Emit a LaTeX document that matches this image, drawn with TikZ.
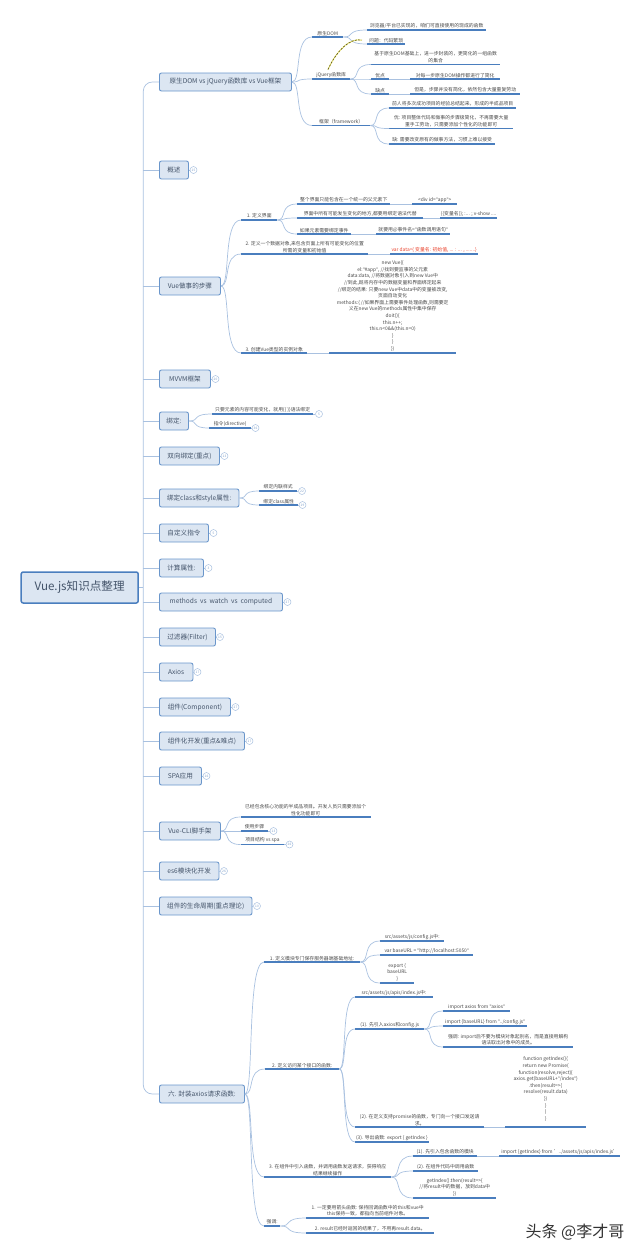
\documentclass[tikz,border=0pt]{standalone}
\usepackage{fontspec}
\setmainfont{Noto Sans CJK SC}
\newfontfamily\latf{Noto Sans}
\newcommand\qq{{\latf"}}
\usetikzlibrary{calc,arrows.meta}
\definecolor{connc}{HTML}{A9C1E0}
\definecolor{ulinec}{HTML}{4A7EBE}
\definecolor{topicf}{HTML}{DCE6F2}
\definecolor{topicd}{HTML}{6A96CB}
\definecolor{topict}{HTML}{44546A}
\definecolor{leaft}{HTML}{484848}
\definecolor{redt}{HTML}{E8402A}
\definecolor{colt}{HTML}{7F9FC9}
\tikzset{
  conn/.style={draw=connc,line width=0.7pt},
  uline/.style={draw=ulinec,line width=1.2pt},
  topic/.style={draw=topicd,fill=topicf,line width=0.9pt,rounded corners=2pt,anchor=west,minimum height=18pt,inner sep=0pt,text=topict,font=\fontsize{6.6}{8}\selectfont},
  centerbox/.style={draw=ulinec,fill=topicf,line width=1.5pt,rounded corners=2pt,minimum height=31pt,minimum width=117pt,inner sep=0pt,text=topict,font=\fontsize{11.6}{14}\selectfont},
  leaf/.style={anchor=south west,inner xsep=0pt,inner ysep=1.4pt,align=center,text=leaft,font=\fontsize{4.85}{6.6}\selectfont},
  colb/.style={circle,draw=connc,fill=white,line width=0.5pt,minimum size=7pt,inner sep=0pt,text=colt,font=\fontsize{3.2}{3.2}\selectfont},
}
\newcommand\leafn[6][]{\node[leaf,minimum width={(#4-#3)*1pt},#1] (#2) at (#3,#5) {#6};
  \draw[uline] (#2.south west)--(#2.south east);}
\newcommand\cv[2]{\draw[conn] let \p1=(#1),\p2=(#2) in (\p1) .. controls ({\x1+0.5*(\x2-\x1)},\y1) and ({\x1+0.08*(\x2-\x1)},\y2) .. (\p2);}
\newcommand\lnk[2]{\draw[conn] (#1.south east)--(#2.south west);}
\newcommand\topicn[5]{\node[topic,minimum width={(#4-#3)*1pt}] (#2) at (#3,#5) {#1};}
\begin{document}
\begin{tikzpicture}[x=1pt,y=-1pt]
\useasboundingbox (0,0) rectangle (640,1254);
\node[centerbox] (root) at (79.7,587.5) {Vue.js知识点整理};
\topicn{原生DOM vs jQuery函数库 vs Vue框架}{t1}{159}{291}{82}
\topicn{概述}{t2}{159}{188}{170}
\topicn{Vue做事的步骤}{t3}{159}{220}{286}
\topicn{MVVM框架}{t4}{159}{210}{379}
\topicn{绑定:}{t5}{159}{188}{421}
\topicn{双向绑定(重点)}{t6}{159}{219}{456}
\topicn{绑定class和style属性:}{t7}{159}{238.5}{498}
\topicn{自定义指令}{t8}{159}{208}{533}
\topicn{计算属性:}{t9}{159}{203}{568}
\topicn{methods\ \ vs\ \ watch\ \ vs\ \ computed}{t10}{159}{282}{602}
\topicn{过滤器(Filter)}{t11}{159}{215}{637}
\topicn{Axios}{t12}{159}{192.5}{672}
\topicn{组件(Component)}{t13}{159}{230}{707}
\topicn{组件化开发(重点\&难点)}{t14}{159}{244}{741}
\topicn{SPA应用}{t15}{159}{201}{776}
\topicn{Vue-CLI脚手架}{t16}{159}{220}{831}
\topicn{es6模块化开发}{t17}{159}{218.5}{871}
\topicn{组件的生命周期(重点理论)}{t18}{159}{251.5}{906}
\topicn{六. 封装axios请求函数:}{t19}{159}{244}{1094}
% trunk
\coordinate (tr) at (143.3,587.5);
\draw[conn] (root.east)--(tr);
\draw[conn,rounded corners=9pt] (t1.west)-|(tr)|-(t19.west);
\foreach \n in {t2,t3,t4,t5,t6,t7,t8,t9,t10,t11,t12,t13,t14,t15,t16,t17,t18}{\draw[conn] (\n.west)--(tr|-\n.west);}
% collapse marks
\foreach \n/\m/\x/\y/\v in {c2/t2/193.5/170/15,c4/t4/215.5/379/20,c6/t6/224.5/456/13,c8/t8/213.5/533/5,c9/t9/208.5/568/3,c10/t10/287.5/602/27,c11/t11/220/637/15,c12/t12/197.5/672/17,c13/t13/235.5/707/27,c14/t14/249.5/741/17,c15/t15/206.5/776/16,c17/t17/224/871/26,c18/t18/257/906/10}{
  \node[colb] (\n) at (\x,\y) {\v};
  \draw[conn] (\m.east)--(\n.west);}
% topic 1
\leafn{a1}{312}{343}{37}{原生DOM}
\leafn{a11}{367}{486}{30}{浏览器/平台已实现的，咱们可直接使用的现成的函数}
\leafn{a12}{367}{405}{44}{问题：代码繁琐}
\leafn{a2}{312}{350}{79}{jQuery函数库}
\leafn{a21}{371}{500}{64.5}{基于原生DOM基础上，进一步封装的，更简化的一组函数\\的集合}
\leafn{a22}{371}{389}{79}{优点}
\leafn{a221}{410}{500}{79}{对每一步原生DOM操作都进行了简化}
\leafn{a23}{371}{389}{94}{缺点}
\leafn{a231}{410}{520}{94}{但是，步骤并没有简化，依然包含大量重复劳动}
\leafn{a3}{312}{370}{125.5}{框架（framework）}
\leafn{a31}{389}{516}{108}{前人将多次成功项目的经验总结起来，形成的半成品项目}
\leafn{a32}{389}{513}{128.5}{优: 项目整体代码和做事的步骤极简化，不再需要大量\\重手工劳动，只需要添加个性化的功能即可}
\leafn{a33}{389}{495}{144}{缺: 需要改变原有的做事方法，习惯上难以接受}
\cv{t1.east}{a1.south west}\cv{t1.east}{a2.south west}\cv{t1.east}{a3.south west}
\cv{a1.south east}{a11.south west}\cv{a1.south east}{a12.south west}
\cv{a2.south east}{a21.south west}\cv{a2.south east}{a22.south west}\cv{a2.south east}{a23.south west}
\cv{a3.south east}{a31.south west}\cv{a3.south east}{a32.south west}\cv{a3.south east}{a33.south west}
\lnk{a22}{a221}\lnk{a23}{a231}
\coordinate (arS) at ($(a2.north west)+(16,-1)$);
\coordinate (arE) at ($(a12.west)+(-5,0)$);
\draw[draw=yellow!45!white,line width=1pt] (arS) .. controls +(8,-18) and +(-12,-3) .. (arE);
\draw[draw=olive!70!black,line width=0.8pt,dash pattern=on 2.2pt off 1.2pt] (arS) .. controls +(8,-18) and +(-12,-3) .. (arE);
% topic 3
\leafn{b1}{241}{277}{220}{1. 定义界面}
\leafn{b11}{297}{390}{204}{整个界面只能包含在一个统一的父元素下}
\leafn{b111}{412}{457}{204}{<div id=\qq app\qq>}
\leafn{b12}{297}{423}{218}{界面中所有可能发生变化的地方,都要用绑定语法代替}
\leafn{b121}{440}{497}{218}{\{\{变量名\}\}; :... ; v-show ....}
\leafn{b13}{297}{351}{234}{如果元素需要绑定事件}
\leafn{b131}{376}{450}{234}{就要用@事件名=\qq 函数调用语句\qq}
\leafn{b2}{241}{368}{254}{2. 定义一个数据对象,来包含页面上所有可能变化的位置\\所需的变量和初始值}
\leafn[text=redt]{b21}{390}{478}{254}{var data=\{ 变量名: 初始值, ... : ... , .......\}}
\leafn{b3}{241}{307}{353}{3. 创建Vue类型的实例对象}
\leafn{b31}{329}{456}{353}{new Vue(\{\\el:\qq\#app\qq, //找到要监事的父元素\\data:data, //将数据对象引入到new Vue中\\//到此,既将内存中的数据变量和界面绑定起来\\//绑定的结果: 只要new Vue中data中的变量被改变,\\页面自动变化\\methods:\{ //如果界面上需要事件处理函数,则需要定\\义在new Vue的methods属性中集中保存\\doit()\{\\this.n++;\\this.n<0\&\&(this.n=0)\\\}\\\}\\\})}
\cv{t3.east}{b1.south west}\cv{t3.east}{b2.south west}\cv{t3.east}{b3.south west}
\cv{b1.south east}{b11.south west}\cv{b1.south east}{b12.south west}\cv{b1.south east}{b13.south west}
\lnk{b11}{b111}\lnk{b12}{b121}\lnk{b13}{b131}\lnk{b2}{b21}\lnk{b3}{b31}
% topic 5
\leafn{d1}{212}{313}{414}{只要元素的内容可能变化，就用\{\{ \}\}语法绑定}
\leafn{d2}{209}{251}{428}{指令(directive)}
\cv{t5.east}{d1.south west}\cv{t5.east}{d2.south west}
\node[colb] (cd1) at (319,414) {5};\node[colb] (cd2) at (255.5,428) {36};
\draw[conn] (d1.south east)--(cd1.west);\draw[conn] (d2.south east)--(cd2.west);
% topic 7
\leafn{e1}{259}{297}{491}{绑定内联样式}
\leafn{e2}{259}{298}{505}{绑定class属性}
\cv{t7.east}{e1.south west}\cv{t7.east}{e2.south west}
\node[colb] (ce1) at (302,491) {22};\node[colb] (ce2) at (302.5,505) {19};
\draw[conn] (e1.south east)--(ce1.west);\draw[conn] (e2.south east)--(ce2.west);
% topic 16
\leafn{f1}{240.5}{370.5}{817}{已经包含核心功能的半成品项目。开发人员只需要添加个\\性化功能即可}
\leafn{f2}{240.5}{268}{831}{使用步骤}
\leafn{f3}{240.5}{284}{844.5}{项目结构 vs spa}
\cv{t16.east}{f1.south west}\cv{t16.east}{f2.south west}\cv{t16.east}{f3.south west}
\node[colb] (cf2) at (273.5,831) {13};\node[colb] (cf3) at (289.5,844.5) {26};
\draw[conn] (f2.south east)--(cf2.west);\draw[conn] (f3.south east)--(cf3.west);
% topic 19
\leafn{g1}{264}{360}{962}{1. 定义模块专门保存服务器端基础地址:}
\leafn{g11}{380}{444}{941}{src/assets/js/config.js中:}
\leafn{g12}{380}{473}{955}{var baseURL = \qq http://localhost:5050\qq}
\leafn{g13}{380}{414}{983}{export \{\\baseURL\\\}}
\leafn{g2}{265}{339}{1069}{2. 定义访问某个接口的函数:}
\leafn{g21}{355}{432.5}{997}{src/assets/js/apis/index.js中:}
\leafn{g22}{355}{424}{1029}{(1). 先引入axios和config.js}
\leafn{g221}{443}{510}{1011}{import axios from \qq axios\qq}
\leafn{g222}{443}{527}{1026}{import \{baseURL\} from \qq../config.js\qq}
\leafn{g223}{443}{573}{1047}{强调: import后不要为模块对象起别名，而是直接用解构\\语法取出对象中的成员。}
\leafn{g23}{355}{484}{1127}{(2). 在定义支持promise的函数，专门向一个接口发送请\\求。}
\leafn{g231}{505}{586}{1127}{function getIndex()\{\\return new Promise(\\function(resolve,reject)\{\\axios.get(baseURL+\qq/index\qq)\\.then(result=>\{\\resolve(result.data)\\\})\\\}\\)\\\}\\[-1.5pt]\mbox{}}
\leafn{g24}{355}{428.5}{1142}{(3). 导出函数: export \{ getIndex \}}
\leafn{g3}{264}{391}{1177}{3. 在组件中引入函数，并调用函数发送请求，获得响应\\结果继续操作}
\leafn{g31}{413}{477}{1156}{(1). 先引入包含函数的模块}
\leafn{g311}{499}{620}{1156}{import \{getIndex\} from '../assets/js/apis/index.js'}
\leafn{g32}{413}{478}{1171}{(2). 在组件代码中调用函数}
\leafn{g33}{413}{496}{1198}{getIndex().then(result=>\{\\//将result中的数据，放到data中\\\})}
\leafn{g4}{264}{280}{1226}{强调:}
\leafn{g41}{306}{429}{1218}{1. 一定要用箭头函数: 保持回调函数中的this和vue中\\this保持一致，都指向当前组件对象。}
\leafn{g42}{306}{434}{1233}{2. result已经时返回的结果了，不用再result.data。}
\cv{t19.east}{g1.south west}\cv{t19.east}{g2.south west}\cv{t19.east}{g3.south west}\cv{t19.east}{g4.south west}
\cv{g1.south east}{g11.south west}\cv{g1.south east}{g12.south west}\cv{g1.south east}{g13.south west}
\cv{g2.south east}{g21.south west}\cv{g2.south east}{g22.south west}\cv{g2.south east}{g23.south west}\cv{g2.south east}{g24.south west}
\cv{g22.south east}{g221.south west}\cv{g22.south east}{g222.south west}\cv{g22.south east}{g223.south west}
\lnk{g23}{g231}
\cv{g3.south east}{g31.south west}\cv{g3.south east}{g32.south west}\cv{g3.south east}{g33.south west}
\lnk{g31}{g311}
\cv{g4.south east}{g41.south west}\cv{g4.south east}{g42.south west}
\node[text=black!80,font=\fontsize{16}{18}\selectfont,inner sep=0pt] (wm) at (575,1232) {头条 @李才哥};
\end{tikzpicture}
\end{document}
